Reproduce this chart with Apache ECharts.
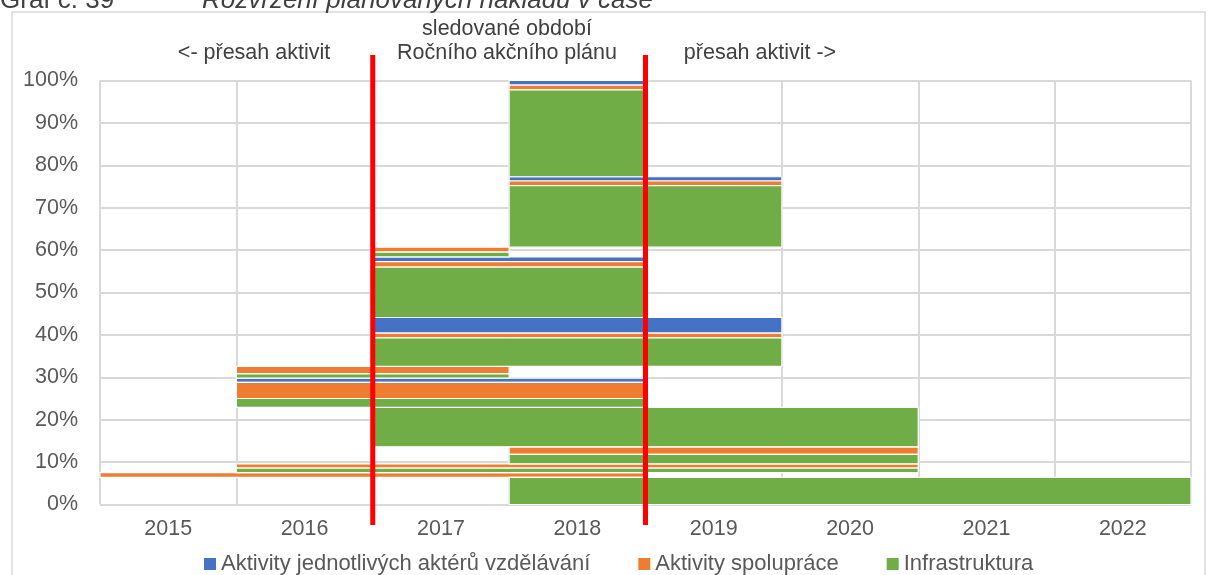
<!DOCTYPE html>
<html>
<head>
<meta charset="utf-8">
<script src="https://cdn.jsdelivr.net/npm/echarts@6/dist/echarts.min.js"></script>
<style>
  html, body { margin: 0; padding: 0; background: #fff; }
  #chart { width: 1209px; height: 575px; }
</style>
</head>
<body>
<div id="chart"></div>
<script>
// Years on the horizontal axis
const years = ['2015', '2016', '2017', '2018', '2019', '2020', '2021', '2022'];
const yTicks = [0, 10, 20, 30, 40, 50, 60, 70, 80, 90, 100];

// Cost bands, stacked from the bottom: type, share of total (%), first and last year
const bandType  = ['I','S','I','S','I','S','I','I','S','A','I','S','I','S','A','I','S','A','I','S','I','S','A','I','S','A'];
const bandShare = [6.4, 1.1, 1.1, 1.0, 2.2, 1.8, 9.3, 2.1, 3.8, 1.0, 1.0, 1.8, 6.7, 1.1, 3.7, 11.9, 1.3, 1.1, 1.1, 1.2, 14.5, 1.1, 1.0, 20.5, 1.1, 1.1];
const bandFrom  = ['2018','2015','2016','2016','2018','2018','2017','2016','2016','2016','2016','2016','2017','2017','2017','2017','2017','2017','2017','2017','2018','2018','2018','2018','2018','2018'];
const bandTo    = ['2022','2018','2020','2020','2020','2020','2020','2018','2018','2018','2017','2017','2019','2019','2019','2018','2018','2018','2017','2017','2019','2019','2019','2018','2018','2018'];

const typeOrder  = ['A', 'S', 'I'];
const typeNames  = { A: 'Aktivity jednotlivých aktérů vzdělávání', S: 'Aktivity spolupráce', I: 'Infrastruktura' };
const typeColors = { A: '#4472C4', S: '#ED7D31', I: '#70AD47' };

// Monitored period boundaries (between these year pairs)
const periodStart = ['2016', '2017'];
const periodEnd   = ['2018', '2019'];

const FONT = 'Liberation Sans';
const TXT = '#595959';

// Stack the bands: each one sits on top of the previous ones
const bandBottom = [];
bandShare.reduce((acc, v, i) => { bandBottom[i] = acc; return acc + v; }, 0);

// One band = one rectangle spanning its years, placed through the axes
function renderBand(params, api) {
  const p0 = api.coord([api.value(0), api.value(2)]);
  const p1 = api.coord([api.value(1), api.value(3)]);
  const w = api.size([1, 0])[0];
  return {
    type: 'rect',
    shape: { x: p0[0] - w / 2, y: p1[1], width: p1[0] - p0[0] + w, height: p0[1] - p1[1] },
    style: { fill: api.visual('color'), stroke: '#ffffff', lineWidth: 1.2 }
  };
}

const series = typeOrder.map(t => ({
  type: 'custom',
  name: typeNames[t],
  itemStyle: { color: typeColors[t] },
  encode: { x: [0, 1], y: [2, 3] },
  renderItem: renderBand,
  data: bandType
    .map((bt, i) => bt === t
      ? [years.indexOf(bandFrom[i]), years.indexOf(bandTo[i]), bandBottom[i], bandBottom[i] + bandShare[i]]
      : null)
    .filter(Boolean)
}));

const chart = echarts.init(document.getElementById('chart'), null, { renderer: 'canvas' });
chart.setOption({
  animation: false,
  grid: { left: 100, right: 18, top: 80.5, bottom: 70.5 },
  xAxis: {
    type: 'category',
    data: years,
    axisLine: { show: false },
    axisTick: { show: false },
    splitLine: { show: true, lineStyle: { color: '#D9D9D9', width: 2 } },
    axisLabel: { color: TXT, fontFamily: FONT, fontSize: 21.5, margin: 14 }
  },
  yAxis: {
    type: 'value',
    min: yTicks[0],
    max: yTicks[yTicks.length - 1],
    interval: 10,
    axisLine: { show: false },
    axisTick: { show: false },
    splitLine: { show: true, lineStyle: { color: '#D9D9D9', width: 2 } },
    axisLabel: { color: TXT, fontFamily: FONT, fontSize: 21.5, margin: 22, formatter: '{value}%' }
  },
  legend: {
    data: typeOrder.map(t => typeNames[t]),
    top: 548,
    left: 199,
    icon: 'rect',
    itemWidth: 12,
    itemHeight: 12,
    itemGap: 48,
    selectedMode: false,
    textStyle: { color: TXT, fontFamily: FONT, fontSize: 22 }
  },
  series: series
});

// Red period boundaries and the headings above the plot
const xStart = (chart.convertToPixel({ xAxisIndex: 0 }, periodStart[0]) + chart.convertToPixel({ xAxisIndex: 0 }, periodStart[1])) / 2;
const xEnd   = (chart.convertToPixel({ xAxisIndex: 0 }, periodEnd[0]) + chart.convertToPixel({ xAxisIndex: 0 }, periodEnd[1])) / 2;
const head = { fill: '#404040', fontFamily: FONT, fontSize: 21.5, align: 'center', verticalAlign: 'middle' };

chart.setOption({
  graphic: [
    { type: 'rect', shape: { x: 12, y: 12, width: 1193, height: 580 }, style: { fill: 'none', stroke: '#D9D9D9', lineWidth: 1.5 }, silent: true, z: 0 },
    { type: 'text', left: 0, top: -12, style: { text: 'Graf č. 39', fill: '#404040', fontFamily: FONT, fontSize: 26 } },
    { type: 'text', left: 202, top: -12, style: { text: 'Rozvržení plánovaných nákladů v čase', fill: '#404040', fontFamily: FONT, fontSize: 26, fontStyle: 'italic' } },
    { type: 'line', shape: { x1: xStart, y1: 55, x2: xStart, y2: 525 }, style: { stroke: '#FF0000', lineWidth: 5 }, z: 100 },
    { type: 'line', shape: { x1: xEnd, y1: 55, x2: xEnd, y2: 525 }, style: { stroke: '#FF0000', lineWidth: 5 }, z: 100 },
    { type: 'text', x: 254, y: 53, style: Object.assign({ text: '<- přesah aktivit' }, head) },
    { type: 'text', x: 507, y: 29, style: Object.assign({ text: 'sledované období' }, head) },
    { type: 'text', x: 507, y: 53, style: Object.assign({ text: 'Ročního akčního plánu' }, head) },
    { type: 'text', x: 760, y: 53, style: Object.assign({ text: 'přesah aktivit ->' }, head) }
  ]
});
</script>
</body>
</html>
